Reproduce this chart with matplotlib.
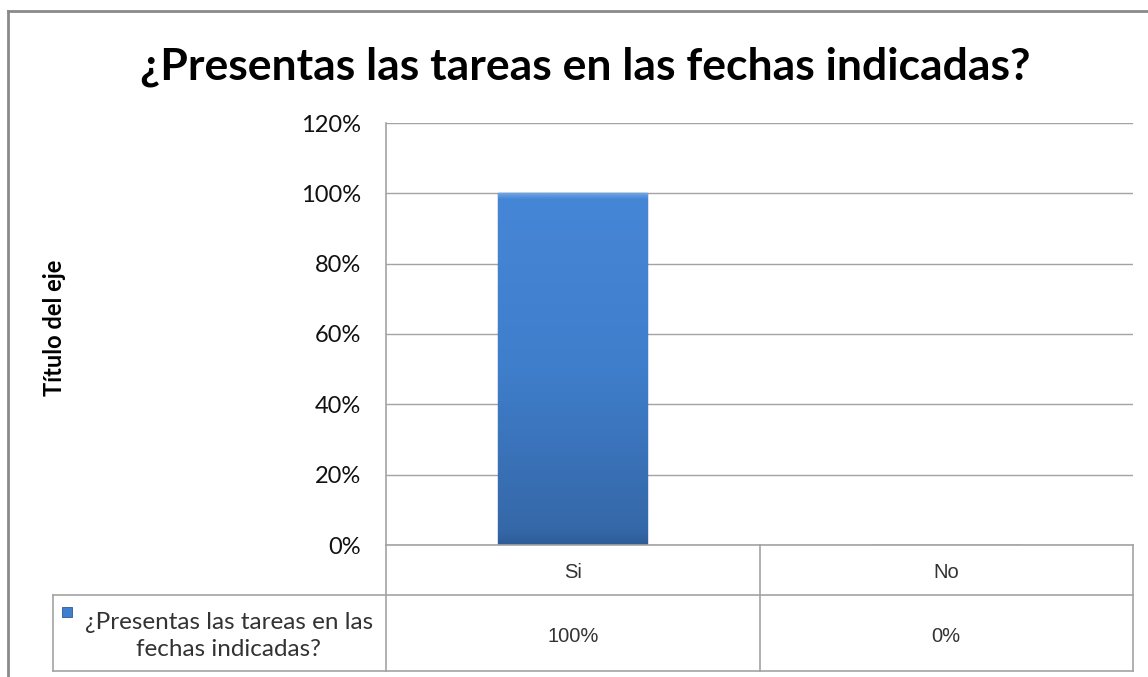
import matplotlib.pyplot as plt
import numpy as np
from matplotlib.colors import LinearSegmentedColormap
from matplotlib.patches import Rectangle

categories = ['Si', 'No']
values = [1.0, 0.0]
value_labels = ['100%', '0%']
series_name = '¿Presentas las tareas en las\nfechas indicadas?'
yticks = [0, 0.2, 0.4, 0.6, 0.8, 1.0, 1.2]
title = '¿Presentas las tareas en las fechas indicadas?'
ylabel = 'Título del eje'

W, H = 1148, 677
fig = plt.figure(figsize=(W / 100, H / 100), dpi=100)

# plot area in pixels (Excel-like layout)
L, R, T, B = 386, 1133, 123, 545
ax = fig.add_axes([L / W, 1 - B / H, (R - L) / W, (B - T) / H])

grid_c = '#a3a3a3'
bars = ax.bar(range(len(categories)), values, width=0.4, color='#3f7fcf',
              edgecolor='#2d5a94', lw=1.0, zorder=2)

# vertical gradient fill, clipped to each bar
grad = LinearSegmentedColormap.from_list(
    'g', [(0, '#6aa3e6'), (0.015, '#4686d6'), (0.5, '#3f7ecb'), (0.96, '#3568a8'), (1, '#2e5d98')])
for b in bars:
    if b.get_height() <= 0:
        continue
    x0, y0 = b.get_x(), b.get_y()
    im = ax.imshow(np.linspace(0, 1, 256).reshape(-1, 1), cmap=grad,
                   extent=[x0, x0 + b.get_width(), y0, y0 + b.get_height()],
                   aspect='auto', zorder=2.5)
    im.set_clip_path(b)

ax.set_xlim(-0.5, len(categories) - 0.5)
ax.set_ylim(0, 1.2)
ax.set_yticks(yticks)
ax.set_yticklabels([f'{int(round(t * 100))}%' for t in yticks],
                   fontsize=17, fontfamily='Lato', color='#111111')
ax.tick_params(axis='y', length=0, pad=18)
ax.set_xticks([])
ax.grid(axis='y', color=grid_c, lw=1)
ax.set_axisbelow(True)
for s in ['top', 'right']:
    ax.spines[s].set_visible(False)
for s in ['left', 'bottom']:
    ax.spines[s].set_color(grid_c)
    ax.spines[s].set_linewidth(1.2)

# overlay in pixel coordinates for frame, title and data table
ov = fig.add_axes([0, 0, 1, 1], zorder=5)
ov.set_xlim(0, W)
ov.set_ylim(H, 0)
ov.axis('off')
ov.patch.set_alpha(0)

ov.plot([8, W], [11, 11], color='#8a8a8a', lw=2)
ov.plot([8, 8], [11, H], color='#8a8a8a', lw=2)

ov.text(585, 67, title, ha='center', va='center', fontsize=32,
        fontweight='bold', fontfamily='Lato', color='black')
ov.text(54, 328, ylabel, ha='center', va='center', rotation=90, fontsize=17,
        fontweight='bold', fontfamily='Lato', color='black')

# data table
r1, r2, r3 = B, 595, 671
leg_l = 53
n = len(categories)
col_w = (R - L) / n
lc = dict(color=grid_c, lw=1.2)
ov.plot([leg_l, R], [r2, r2], **lc)
ov.plot([leg_l, R], [r3, r3], **lc)
ov.plot([leg_l, leg_l], [r2, r3], **lc)
for i in range(n + 1):
    ov.plot([L + i * col_w, L + i * col_w], [r1, r3], **lc)

for i, (c, v) in enumerate(zip(categories, value_labels)):
    cx = L + (i + 0.5) * col_w
    ov.text(cx, 573, c, ha='center', va='center', fontsize=14.5,
            fontfamily='Liberation Sans', color='#333333')
    ov.text(cx, 636, v, ha='center', va='center', fontsize=14.5,
            fontfamily='Liberation Sans', color='#333333')

ov.text(229, 636, series_name, ha='center', va='center', multialignment='center',
        fontsize=17.5, fontfamily='Lato', color='#333333', linespacing=1.3)
ov.add_patch(Rectangle((62, 607), 10, 10, facecolor='#3f7fcf', edgecolor='#2d5a94', lw=0.6))

fig.savefig('out.png', dpi=100)
